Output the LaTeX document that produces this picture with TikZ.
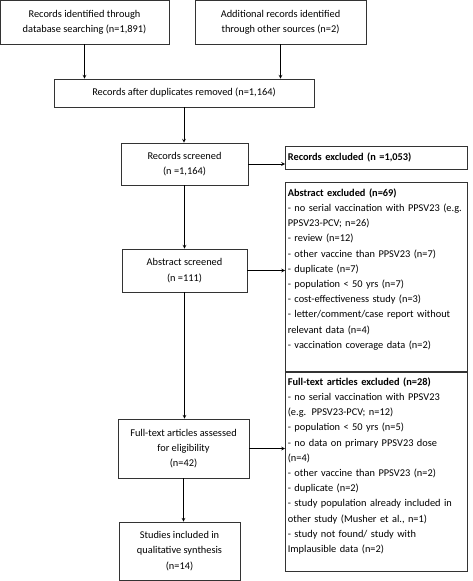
\documentclass[tikz,border=0pt]{standalone}
\usepackage{fontspec}
\setmainfont{Carlito}
\usetikzlibrary{arrows}

\begin{document}
\begin{tikzpicture}[x=1bp, y=-1bp,
    box/.style={draw=black!80, line width=0.7pt, align=center, inner sep=2pt,
      font=\fontsize{10.4}{15.3}\selectfont},
    listbox/.style={box, align=left, anchor=north west, inner xsep=2.5bp, inner ysep=6bp,
      text width=177bp}]
  \useasboundingbox (0,0) rectangle (473,581);
  \node[box, minimum width=169bp, minimum height=44bp] (ident) at (84.5,22)
    {Records identified through\\database searching (n=1,891)};
  \node[box, minimum width=171bp, minimum height=44bp] (other) at (280.5,22)
    {Additional records identified\\through other sources (n=2)};
  \node[box, minimum width=260bp, minimum height=28bp] (dup) at (184,93)
    {Records after duplicates removed (n=1,164)};
  \node[box, minimum width=127bp, minimum height=42bp] (screened) at (184.5,164)
    {Records screened\\(n =1,164)};
  \node[box, minimum width=125bp, minimum height=43bp] (abstract) at (184.5,270.5)
    {Abstract screened\\(n =111)};
  \node[box, minimum width=131bp, minimum height=59bp] (fulltext) at (183.5,448.5)
    {Full-text articles assessed\\for eligibility\\(n=42)};
  \node[box, minimum width=121bp, minimum height=58bp] (studies) at (179.5,551)
    {Studies included in\\qualitative synthesis\\(n=14)};
  \node[listbox, minimum height=23bp, inner ysep=2pt] (excl1) at (285,146)
    {\textbf{Records excluded (n =1,053)}};
  \node[listbox] (excl2) at (285,182)
    {\textbf{Abstract excluded (n=69)}\\
     \mbox{- no serial vaccination with PPSV23 (e.g.}\\
     PPSV23-PCV; n=26)\\
     - review (n=12)\\
     - other vaccine than PPSV23 (n=7)\\
     - duplicate (n=7)\\
     - population < 50 yrs (n=7)\\
     - cost-effectiveness study (n=3)\\
     - letter/comment/case report without\\
     relevant data (n=4)\\
     - vaccination coverage data (n=2)\\[2.7bp]\mbox{}};
  \node[listbox] (excl3) at (285,371)
    {\textbf{Full-text articles excluded (n=28)}\\
     - no serial vaccination with PPSV23\\
     (e.g. PPSV23-PCV; n=12)\\
     - population < 50 yrs (n=5)\\
     - no data on primary PPSV23 dose\\
     (n=4)\\
     - other vaccine than PPSV23 (n=2)\\
     - duplicate (n=2)\\
     \mbox{- study population already included in}\\
     other study (Musher et al., n=1)\\
     - study not found/ study with\\
     Implausible data (n=2)\\[-3bp]\mbox{}};
  \path[-stealth, line width=0.7pt]
  (ident.south) edge (ident.south |- dup.north)
  (other.south) edge (other.south |- dup.north)
  (dup.south) edge (dup.south |- screened.north)
  (screened.south) edge (screened.south |- abstract.north)
  (abstract.south) edge (abstract.south |- fulltext.north)
  (fulltext.south) edge (fulltext.south |- studies.north)
  (screened.east) edge (screened.east -| excl1.west)
  (abstract.east) edge (abstract.east -| excl2.west)
  (fulltext.east) edge (fulltext.east -| excl3.west);
\end{tikzpicture}
\end{document}
